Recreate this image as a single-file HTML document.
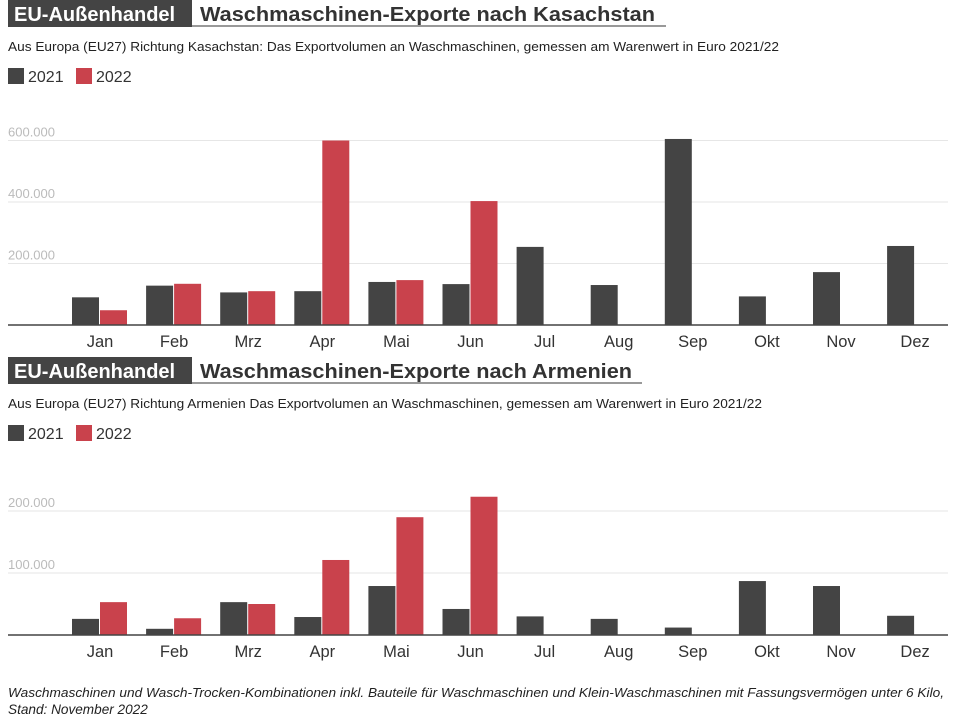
<!DOCTYPE html>
<html><head><meta charset="utf-8"><style>
body{margin:0;background:#fff;font-family:"Liberation Sans",Arial,sans-serif;}
svg text{font-family:"Liberation Sans",Arial,sans-serif;}
</style></head><body>
<svg id="svg" width="960" height="720" xmlns="http://www.w3.org/2000/svg">
<text x="8" y="697" font-size="13" font-style="italic" fill="#222" textLength="936" lengthAdjust="spacingAndGlyphs">Waschmaschinen und Wasch-Trocken-Kombinationen inkl. Bauteile für Waschmaschinen und Klein-Waschmaschinen mit Fassungsvermögen unter 6 Kilo,</text>
<text x="8" y="714" font-size="13.6" font-style="italic" fill="#222">Stand: November 2022</text>
</svg>
<script>
const months=["Jan","Feb","Mrz","Apr","Mai","Jun","Jul","Aug","Sep","Okt","Nov","Dez"];
const kaz2021=[90000,128000,106000,110000,140000,133000,254000,130000,605000,93000,172000,257000];
const kaz2022=[48000,134000,110000,600000,146000,403000,0,0,0,0,0,0];
const kazTicks=[200000,400000,600000];
const arm2021=[26000,10000,53000,29000,79000,42000,30000,26000,12000,87000,79000,31000];
const arm2022=[53000,27000,50000,121000,190000,223000,0,0,0,0,0,0];
const armTicks=[100000,200000];
const NS="http://www.w3.org/2000/svg";
const svg=document.getElementById('svg');
function mk(t,a,txt){const e=document.createElementNS(NS,t);for(const k in a)e.setAttribute(k,a[k]);if(txt!==undefined)e.textContent=txt;svg.appendChild(e);return e;}
function fmt(v){return v.toLocaleString('de-DE');}
function panel(o){
  const top=o.top;
  let e=mk('rect',{x:8,y:top,width:184,height:27,fill:'#444'});
  
  e=mk('text',{x:14,y:top+21,'font-size':20,'font-weight':'bold',fill:'#fff'},'EU-Außenhandel');
  
  e=mk('text',{x:200,y:top+21,'font-size':20.5,'font-weight':'bold',fill:'#333',textLength:o.tlen,lengthAdjust:'spacingAndGlyphs'},o.title);
  
  e=mk('line',{x1:192,x2:o.ulen,y1:top+26,y2:top+26,stroke:'#333','stroke-width':1});
  
  e=mk('text',{x:8,y:top+51,'font-size':13,fill:'#222',textLength:o.slen,lengthAdjust:'spacingAndGlyphs'},o.sub);
  
  [['2021','#444',8],['2022','#c9424c',76]].forEach(l=>{
    let r=mk('rect',{x:l[2],y:top+68,width:16,height:16,fill:l[1]});
    
    let t=mk('text',{x:l[2]+20,y:top+82,'font-size':16,fill:'#333'},l[0]);
    
  });
  const base=o.base, ppu=o.ppu;
  const y=v=>base-v*ppu;
  const xc=i=>100+i*74.1;
  o.ticks.forEach(t=>{
    let g=mk('line',{x1:8,x2:948,y1:y(t),y2:y(t),stroke:'#e6e6e6'});
    
    let tl=mk('text',{x:8,y:y(t)-4,'font-size':13,fill:'#bbb'},fmt(t));
    
  });
  months.forEach((m,i)=>{
    [[o.a,'#444',-28,'2021'],[o.b,'#c9424c',0,'2022']].forEach(s=>{
      const v=s[0][i]; if(v<=0)return;
      let b=mk('rect',{x:xc(i)+s[2],y:y(v),width:27,height:base-y(v),fill:s[1]});
      
    });
    let t=mk('text',{x:xc(i),y:base+22,'font-size':16.5,fill:'#333','text-anchor':'middle'},m);
    
  });
  let ax=mk('line',{x1:8,x2:948,y1:base,y2:base,stroke:'#444','stroke-width':1.5});
  
}
panel({top:0,title:'Waschmaschinen-Exporte nach Kasachstan',tlen:455,ulen:666,slen:771,sub:'Aus Europa (EU27) Richtung Kasachstan: Das Exportvolumen an Waschmaschinen, gemessen am Warenwert in Euro 2021/22',base:325,ppu:61.5/200000,ticks:kazTicks,a:kaz2021,b:kaz2022});
panel({top:357,title:'Waschmaschinen-Exporte nach Armenien',tlen:432,ulen:642,slen:754,sub:'Aus Europa (EU27) Richtung Armenien Das Exportvolumen an Waschmaschinen, gemessen am Warenwert in Euro 2021/22',base:635,ppu:62/100000,ticks:armTicks,a:arm2021,b:arm2022});
</script>
</body></html>
